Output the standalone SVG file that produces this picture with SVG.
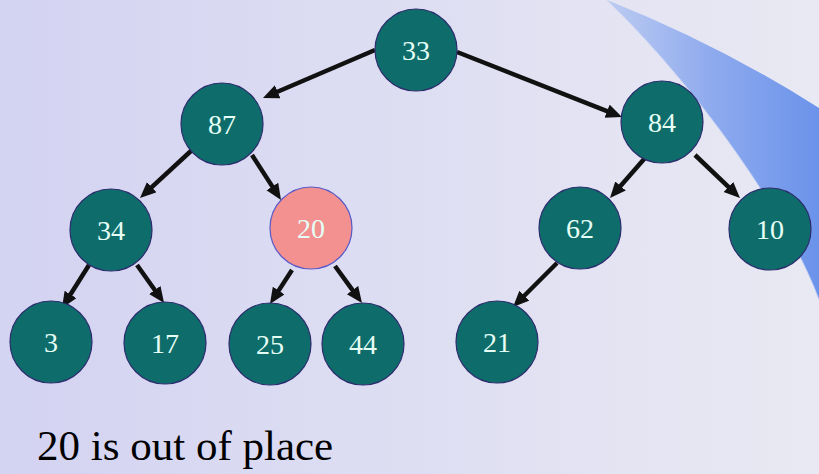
<svg xmlns="http://www.w3.org/2000/svg" width="819" height="474" viewBox="0 0 819 474">
  <defs>
    <linearGradient id="bg" x1="0" y1="0" x2="1" y2="0">
      <stop offset="0" stop-color="#d3d3f2"/>
      <stop offset="1" stop-color="#e9e9f3"/>
    </linearGradient>
    <linearGradient id="swoosh" x1="607" y1="0" x2="819" y2="0" gradientUnits="userSpaceOnUse">
      <stop offset="0" stop-color="#bccbf1"/>
      <stop offset="0.5" stop-color="#8eaaee"/>
      <stop offset="1" stop-color="#6b93ea"/>
    </linearGradient>
    <marker id="arrow" markerUnits="userSpaceOnUse" markerWidth="18" markerHeight="16" refX="4" refY="7" orient="auto">
      <path d="M0,0 L16,7 L0,14 z" fill="#111"/>
    </marker>
    <style>
      .node circle { fill: #0e6d6a; stroke: #2b2d6e; stroke-width: 1.2; }
      .node.hot circle { fill: #f29190; stroke: #5a5ac8; }
      .node text { font-size: 28px; fill: #e6fff6; text-anchor: middle; }
      .edges line { stroke: #111; stroke-width: 4.5; marker-end: url(#arrow); }
      .caption { font-size: 43px; fill: #000; }
    </style>
  </defs>

  <!-- background -->
  <rect width="819" height="474" fill="url(#bg)"/>
  <path d="M607,0 Q720,45 819,108 L819,300 C790,220 700,90 607,0 Z" fill="url(#swoosh)"/>
  <path d="M819,300 C790,220 700,90 607,0" fill="none" stroke="#c9d5f4" stroke-width="1"/>

  <!-- connectors -->
  <g class="edges">
    <line x1="375" y1="50" x2="274" y2="93.3"/>
    <line x1="457" y1="52" x2="610.8" y2="112.6"/>
    <line x1="192" y1="150" x2="148.8" y2="189.9"/>
    <line x1="252" y1="155" x2="274.5" y2="189.9"/>
    <line x1="645" y1="158" x2="617.9" y2="189"/>
    <line x1="695" y1="155" x2="731.3" y2="189.7"/>
    <line x1="89" y1="265" x2="68.4" y2="297.8"/>
    <line x1="137" y1="265" x2="157.1" y2="293.2"/>
    <line x1="292" y1="270" x2="276.5" y2="293.9"/>
    <line x1="335" y1="266" x2="354.9" y2="293.3"/>
    <line x1="557" y1="263" x2="521.5" y2="298.5"/>
  </g>

  <!-- nodes -->
  <g font-family="'Liberation Serif', 'Times New Roman', 'DejaVu Serif', serif">
    <g id="n33" class="node"><circle cx="416" cy="50" r="41"/><text x="416" y="60">33</text></g>
    <g id="n87" class="node"><circle cx="222" cy="124" r="41"/><text x="222" y="134">87</text></g>
    <g id="n84" class="node"><circle cx="662" cy="122" r="41"/><text x="662" y="132">84</text></g>
    <g id="n34" class="node"><circle cx="111" cy="230" r="41"/><text x="111" y="240">34</text></g>
    <g id="n20" class="node hot"><circle cx="311" cy="228" r="41"/><text x="311" y="238">20</text></g>
    <g id="n62" class="node"><circle cx="580" cy="228" r="41"/><text x="580" y="238">62</text></g>
    <g id="n10" class="node"><circle cx="770" cy="229" r="41"/><text x="770" y="239">10</text></g>
    <g id="n3" class="node"><circle cx="51" cy="342" r="41"/><text x="51" y="352">3</text></g>
    <g id="n17" class="node"><circle cx="165" cy="343" r="41"/><text x="165" y="353">17</text></g>
    <g id="n25" class="node"><circle cx="270" cy="344" r="41"/><text x="270" y="354">25</text></g>
    <g id="n44" class="node"><circle cx="363" cy="344" r="41"/><text x="363" y="354">44</text></g>
    <g id="n21" class="node"><circle cx="497" cy="342" r="41"/><text x="497" y="352">21</text></g>

    <text class="caption" x="37" y="460">20 is out of place</text>
  </g>
</svg>
